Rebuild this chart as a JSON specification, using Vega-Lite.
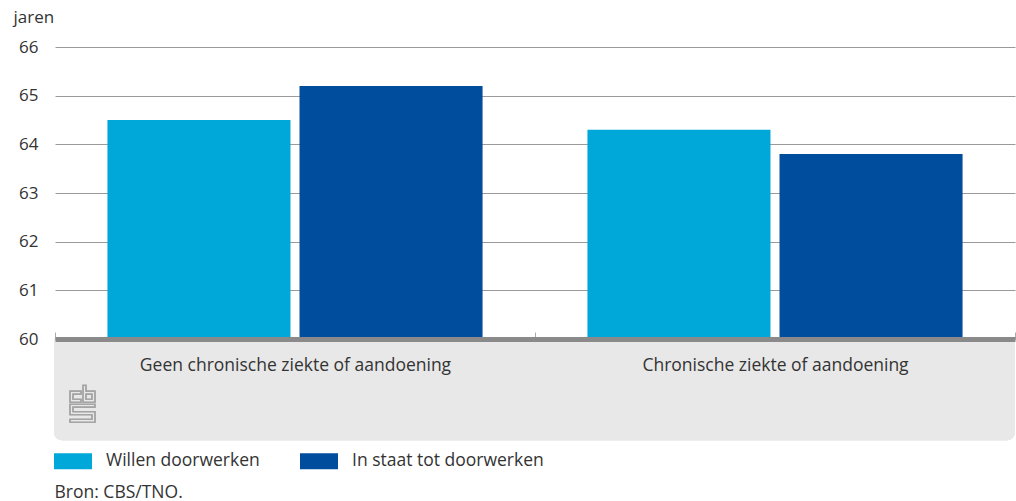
{
  "$schema": "https://vega.github.io/schema/vega-lite/v6.json",
  "width": 960,
  "height": 292,
  "autosize": {"type": "none"},
  "padding": {"left": 55, "top": 47, "right": 1, "bottom": 162},
  "background": "#ffffff",
  "config": {
    "view": {"stroke": null},
    "font": "Open Sans",
    "axis": {"labelFont": "Open Sans", "titleFont": "Open Sans", "labelColor": "#333333", "titleColor": "#333333"},
    "legend": {"labelFont": "Open Sans"}
  },
  "data": {
    "values": [
      {"groep": "Geen chronische ziekte of aandoening", "reeks": "Willen doorwerken", "jaren": 64.5},
      {"groep": "Geen chronische ziekte of aandoening", "reeks": "In staat tot doorwerken", "jaren": 65.2},
      {"groep": "Chronische ziekte of aandoening", "reeks": "Willen doorwerken", "jaren": 64.3},
      {"groep": "Chronische ziekte of aandoening", "reeks": "In staat tot doorwerken", "jaren": 63.8}
    ]
  },
  "layer": [
    {
      "mark": {"type": "rect", "color": "#e8e8e8", "clip": false, "cornerRadiusBottomLeft": 8, "cornerRadiusBottomRight": 8},
      "encoding": {
        "x": {"value": -1},
        "x2": {"value": "width"},
        "y": {"datum": 60, "scale": {"domain": [60, 66], "nice": false, "zero": false}},
        "y2": {"datum": 57.92}
      }
    },
    {
      "mark": {"type": "point", "filled": false, "stroke": "#a3a3a3", "strokeWidth": 1.2, "size": 1369, "clip": false,
        "shape": "M-0.676,-0.676H-0.081V-0.514H-0.514V-0.243H-0.081V-0.081H-0.676Z M0.027,-1H0.189V-0.676H0.676V-0.081H0.027Z M0.189,-0.514H0.514V-0.243H0.189Z M-0.676,0.027H0.676V0.189H-0.514V0.432H0.676V1H-0.676V0.838H0.514V0.595H-0.676Z"},
      "encoding": {
        "x": {"value": 27.5},
        "y": {"datum": 58.67}
      }
    },
    {
      "mark": {"type": "bar"},
      "encoding": {
        "x": {
          "field": "groep", "type": "nominal", "sort": null,
          "scale": {"paddingInner": 0, "paddingOuter": 0},
          "axis": {
            "title": "Bron: CBS/TNO.", "titleX": -1, "titleY": 158, "titleAlign": "left", "titleAnchor": "start",
            "titleBaseline": "alphabetic", "titleFontSize": 17.5, "titleFontWeight": "normal",
            "labelAngle": 0, "labelFontSize": 17.5, "labelPadding": 24, "labelBaseline": "top", "labelLimit": 0,
            "domainColor": "#8a8a8a", "domainWidth": 5,
            "ticks": true, "tickBand": "extent", "tickSize": -7, "tickColor": "#aaaaaa", "tickWidth": 1,
            "zindex": 1
          }
        },
        "xOffset": {
          "field": "reeks", "type": "nominal", "sort": ["Willen doorwerken", "In staat tot doorwerken"],
          "scale": {"paddingInner": 0.047, "paddingOuter": 0.273}
        },
        "y": {
          "field": "jaren", "type": "quantitative",
          "scale": {"domain": [60, 66], "nice": false, "zero": false},
          "axis": {
            "title": "jaren", "titleAngle": 0, "titleAlign": "left", "titleBaseline": "alphabetic",
            "titleX": -42, "titleY": -25, "titleFontSize": 17, "titleFontWeight": "normal",
            "values": [60, 61, 62, 63, 64, 65, 66], "labelOverlap": false,
            "labelFontSize": 17, "labelPadding": 17, "domain": false, "ticks": false,
            "grid": true, "gridColor": "#9a9a9a", "gridWidth": 1
          }
        },
        "y2": {"datum": 60},
        "color": {
          "field": "reeks", "type": "nominal", "sort": ["Willen doorwerken", "In staat tot doorwerken"],
          "scale": {"range": ["#00a8d9", "#004c9d"]},
          "legend": {
            "title": null, "orient": "none", "direction": "horizontal",
            "legendX": -1, "legendY": 395,
            "symbolType": "M-1,-0.42H1V0.42H-1Z", "symbolSize": 1444, "symbolStrokeWidth": 0,
            "labelFontSize": 17.5, "labelColor": "#333333", "labelOffset": 14, "columnPadding": 40, "labelLimit": 0
          }
        }
      }
    }
  ]
}
